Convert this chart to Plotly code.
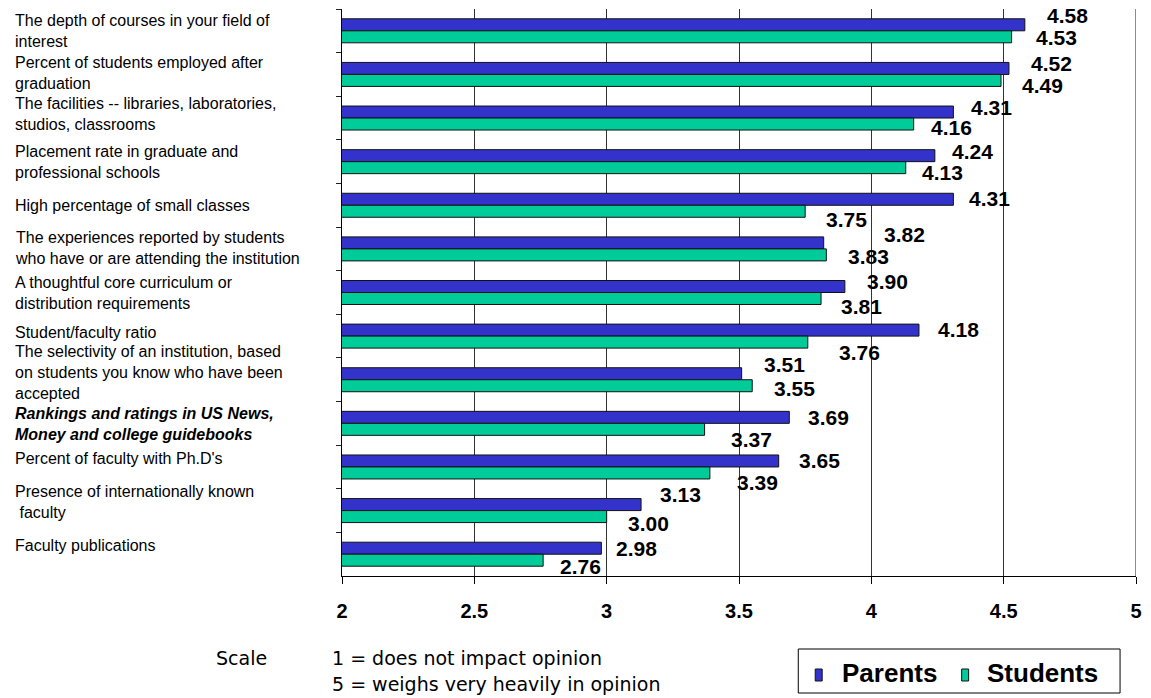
import plotly.graph_objects as go

# ---------------- data ----------------
categories = [
    "The depth of courses in your field of<br>interest",
    "Percent of students employed after<br>graduation",
    "The facilities -- libraries, laboratories,<br>studios, classrooms",
    "Placement rate in graduate and<br>professional schools",
    "High percentage of small classes",
    "The experiences reported by students<br>who have or are attending the institution",
    "A thoughtful core curriculum or<br>distribution requirements",
    "Student/faculty ratio",
    "The selectivity of an institution, based<br>on students you know who have been<br>accepted",
    "Rankings and ratings in US News,<br>Money and college guidebooks",
    "Percent of faculty with Ph.D's",
    "Presence of internationally known<br> faculty",
    "Faculty publications",
]
parents = [4.58, 4.52, 4.31, 4.24, 4.31, 3.82, 3.90, 4.18, 3.51, 3.69, 3.65, 3.13, 2.98]
students = [4.53, 4.49, 4.16, 4.13, 3.75, 3.83, 3.81, 3.76, 3.55, 3.37, 3.39, 3.00, 2.76]
x_ticks = [2, 2.5, 3, 3.5, 4, 4.5, 5]
series_names = ["Parents", "Students"]
scale_notes = ["1 = does not impact opinion", "5 = weighs very heavily in opinion"]

# ---------------- styles ----------------
FONT = "Liberation Sans, Arial, sans-serif"
PARENT_COLOR = "#3333CC"
STUDENT_COLOR = "#00CC99"
EDGE = "#111111"
EMPHASIS_INDEX = 9  # bold italic category label

W, H = 1151, 698
L, R, T, B = 342, 12, 9, 122
PW, PH = W - L - R, H - T - B


def px_x(px):
    return (px - L) / PW


def px_y(py):
    return (H - B - py) / PH


# label nudges (pixels): gap from bar end, vertical offset from category centre (down = +)
parent_gap = [20, 20, 16, 15, 14, 58, 20, 17, 20, 17, 18, 17, 13]
parent_dy = [-15, -11, -11, -10, -7, -14, -11, -7, -15, -6, -6, -16, -6]
student_gap = [22, 19, 15, 14, 19, 20, 18, 29, 20, 24, 25, 19, 15]
student_dy = [7, 11, 9, 11, 14, 8, 14, 16, 9, 16, 16, 13, 12]
cat_label_dy = [0, -1, -4, 0, 0, -1, 0, -4, -7, 1, -8, -9, -9]

fig = go.Figure()
fig.add_trace(go.Bar(
    y=categories, x=parents, orientation="h", name=series_names[0],
    marker=dict(color=PARENT_COLOR, line=dict(color=EDGE, width=1)),
))
fig.add_trace(go.Bar(
    y=categories, x=students, orientation="h", name=series_names[1],
    marker=dict(color=STUDENT_COLOR, line=dict(color=EDGE, width=1)),
))

annotations = []
label_font = dict(family=FONT, size=21, color="black", weight="bold")
for i, c in enumerate(categories):
    annotations.append(dict(
        x=parents[i], y=c, xref="x", yref="y", text=f"{parents[i]:.2f}",
        showarrow=False, xanchor="left", yanchor="middle",
        xshift=parent_gap[i], yshift=-parent_dy[i], font=label_font,
    ))
    annotations.append(dict(
        x=students[i], y=c, xref="x", yref="y", text=f"{students[i]:.2f}",
        showarrow=False, xanchor="left", yanchor="middle",
        xshift=student_gap[i], yshift=-student_dy[i], font=label_font,
    ))

# category labels (left aligned)
for i, c in enumerate(categories):
    emph = i == EMPHASIS_INDEX
    annotations.append(dict(
        x=px_x(12), y=c, xref="paper", yref="y", text=c,
        showarrow=False, xanchor="left", yanchor="middle", align="left",
        yshift=-cat_label_dy[i],
        font=dict(family=FONT, size=16, color="black",
                  weight="bold" if emph else "normal",
                  style="italic" if emph else "normal"),
    ))

# scale note
note_font = dict(family="DejaVu Sans, sans-serif", size=19, color="black")
annotations.append(dict(x=px_x(214), y=px_y(658), xref="paper", yref="paper",
                        text="Scale", showarrow=False, xanchor="left", yanchor="middle",
                        font=note_font))
annotations.append(dict(x=px_x(330), y=px_y(658), xref="paper", yref="paper",
                        text=scale_notes[0], showarrow=False, xanchor="left",
                        yanchor="middle", font=note_font))
annotations.append(dict(x=px_x(330), y=px_y(684), xref="paper", yref="paper",
                        text=scale_notes[1], showarrow=False, xanchor="left",
                        yanchor="middle", font=note_font))

# legend (drawn as a boxed key below the plot)
legend_font = dict(family=FONT, size=26, color="black", weight="bold")
shapes = [
    dict(type="rect", xref="paper", yref="paper",
         x0=px_x(800), x1=px_x(1123), y0=px_y(649), y1=px_y(693),
         line=dict(color="black", width=1), fillcolor="white", layer="above"),
    dict(type="rect", xref="paper", yref="paper",
         x0=px_x(817), x1=px_x(824), y0=px_y(669), y1=px_y(681),
         line=dict(color=EDGE, width=1), fillcolor=PARENT_COLOR, layer="above"),
    dict(type="rect", xref="paper", yref="paper",
         x0=px_x(964), x1=px_x(971), y0=px_y(669), y1=px_y(681),
         line=dict(color=EDGE, width=1), fillcolor=STUDENT_COLOR, layer="above"),
    # gridline at the right end of the value axis
    dict(type="line", xref="x", yref="paper", x0=x_ticks[-1], x1=x_ticks[-1], y0=0, y1=1,
         line=dict(color="#666666", width=1.5), layer="below"),
]
annotations.append(dict(x=px_x(842), y=px_y(673), xref="paper", yref="paper",
                        text=series_names[0], showarrow=False, xanchor="left",
                        yanchor="middle", font=legend_font))
annotations.append(dict(x=px_x(987), y=px_y(673), xref="paper", yref="paper",
                        text=series_names[1], showarrow=False, xanchor="left",
                        yanchor="middle", font=legend_font))

fig.update_layout(
    width=W, height=H, autosize=False,
    margin=dict(l=L, r=R, t=T, b=B, pad=0),
    paper_bgcolor="white", plot_bgcolor="white",
    barmode="group", bargap=0.45, bargroupgap=0,
    font=dict(family=FONT, color="black"),
    showlegend=False,
    xaxis=dict(
        range=[2, 5], tickmode="array", tickvals=x_ticks,
        ticktext=[f"{v:g}" for v in x_ticks],
        showgrid=True, gridcolor="#333333", gridwidth=1,
        showline=True, linecolor="black", linewidth=1,
        ticks="outside", ticklen=7, tickcolor="black",
        tickfont=dict(family=FONT, size=20, color="black", weight="bold"),
        ticklabelstandoff=10,
        zeroline=False,
    ),
    yaxis=dict(
        type="category", autorange="reversed",
        showticklabels=False, tickson="boundaries",
        ticks="outside", ticklen=5, tickcolor="#222222",
        showline=True, linecolor="black", linewidth=1,
        showgrid=False, zeroline=False,
    ),
    annotations=annotations,
    shapes=shapes,
)

fig.write_html("out.html")
